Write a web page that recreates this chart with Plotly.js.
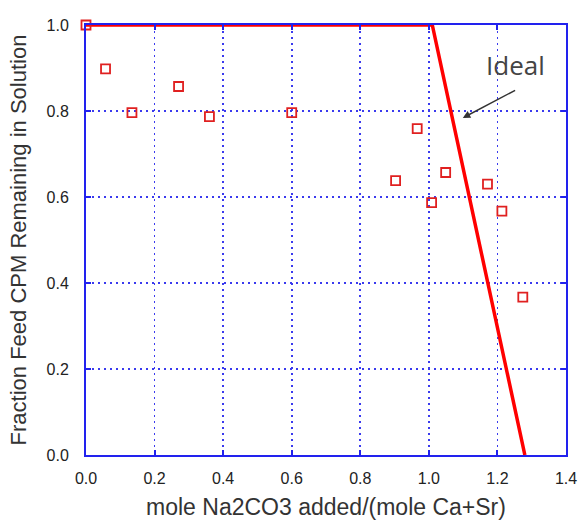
<!DOCTYPE html>
<html>
<head>
<meta charset="utf-8">
<script src="https://cdn.plot.ly/plotly-3.0.1.min.js"></script>
<style>html,body{margin:0;padding:0;background:#fff;}#chart{width:579px;height:520px;}</style>
</head>
<body>
<div id="chart"></div>
<script>
const dataX = [0.0, 0.057, 0.134, 0.27, 0.36, 0.60, 0.903, 0.966, 1.008, 1.049, 1.171, 1.213, 1.274];
const dataY = [1.0, 0.898, 0.796, 0.857, 0.787, 0.796, 0.638, 0.759, 0.587, 0.657, 0.63, 0.567, 0.367];
const idealX = [0.0, 1.01, 1.28];
const idealY = [1.0, 1.0, 0.0];
const xTicks = [0.0, 0.2, 0.4, 0.6, 0.8, 1.0, 1.2, 1.4];
const yTicks = [0.0, 0.2, 0.4, 0.6, 0.8, 1.0];

const blue = '#2222ee';
const traces = [
  {x: idealX, y: idealY, mode: 'lines', line: {color: '#ff0000', width: 3.5}, hoverinfo: 'skip', cliponaxis: false},
  {x: dataX, y: dataY, mode: 'markers', marker: {symbol: 'square-open', size: 9, color: '#e02020', line: {width: 1.8, color: '#e02020'}}, cliponaxis: false}
];
const axisCommon = {
  showline: true, mirror: 'ticks', linecolor: blue, linewidth: 2,
  ticks: 'inside', tickcolor: blue, ticklen: 5, tickwidth: 2,
  showgrid: true, gridcolor: '#3a3aee', griddash: '2px,4px', gridwidth: 1.6,
  zeroline: false, tickformat: '.1f',
  tickfont: {family: 'Liberation Sans, Arial, sans-serif', size: 16, color: '#222'}
};
const layout = {
  width: 579, height: 520,
  margin: {l: 86, r: 13, t: 25, b: 65},
  paper_bgcolor: '#fff', plot_bgcolor: '#fff',
  showlegend: false,
  xaxis: Object.assign({}, axisCommon, {range: [0, 1.4], tickvals: xTicks, ticklabelstandoff: 8,
    title: {text: 'mole Na2CO3 added/(mole Ca+Sr)', font: {family: 'Liberation Sans, Arial, sans-serif', size: 23, color: '#333'}, standoff: 14}}),
  yaxis: Object.assign({}, axisCommon, {range: [0, 1.0], tickvals: yTicks, ticklabelstandoff: 12,
    title: {text: 'Fraction Feed CPM Remaining in Solution', font: {family: 'Liberation Sans, Arial, sans-serif', size: 22, color: '#333'}, standoff: 14}}),
  annotations: [
    {x: 1.253, y: 0.907, xref: 'x', yref: 'y', text: 'Ideal', showarrow: false,
     font: {family: 'Open Sans, Lato, sans-serif', size: 26, color: '#444'}},
    {x: 1.099, y: 0.784, xref: 'x', yref: 'y', ax: 1.256, ay: 0.85, axref: 'x', ayref: 'y',
     text: '', showarrow: true, arrowhead: 2, arrowsize: 1, arrowwidth: 1.5, arrowcolor: '#333'}
  ]
};
Plotly.newPlot('chart', traces, layout, {displayModeBar: false, staticPlot: true});
</script>
</body>
</html>
